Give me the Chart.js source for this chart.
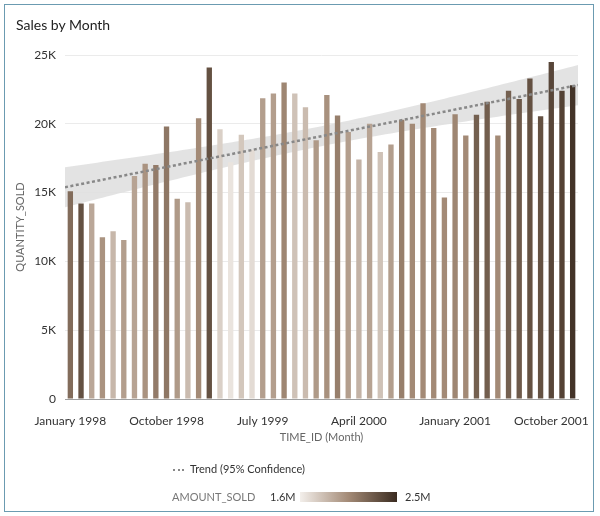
<!DOCTYPE html>
<html lang="en">
<head>
<meta charset="UTF-8">
<title>Sales by Month</title>
<script src="https://cdn.jsdelivr.net/npm/chart.js"></script>
<style>
  body { margin: 0; background: #fff; font-family: Lato, "Noto Sans", sans-serif; }
  #wrap { position: relative; width: 600px; height: 516px; }
  #frame { position: absolute; left: 4px; top: 4px; width: 590px; height: 508px; box-sizing: border-box; border: 1px solid #6b9bb1; }
  #chart { position: absolute; left: 0; top: 0; }
  .txt { position: absolute; white-space: nowrap; line-height: 1; }
  #title { left: 16px; top: 18px; font-size: 14px; color: #222; }
  #trendKey { left: 173px; top: 469px; width: 11px; border-top: 2px dotted #888; }
  #trendLbl { left: 190px; top: 463px; font-size: 11px; color: #333; }
  #amtLbl { left: 172px; top: 491px; font-size: 11px; color: #777; }
  #amtMin { left: 270px; top: 491px; font-size: 11px; color: #333; }
  #amtBar { position: absolute; left: 300px; top: 492px; width: 97px; height: 10px; }
  #amtMax { left: 405px; top: 491px; font-size: 11px; color: #333; }
</style>
</head>
<body>
<div id="wrap">
  <div id="frame"></div>
  <canvas id="chart" width="600" height="516"></canvas>
  <div id="title" class="txt">Sales by Month</div>
  <div id="trendKey" class="txt"></div>
  <div id="trendLbl" class="txt">Trend (95% Confidence)</div>
  <div id="amtLbl" class="txt">AMOUNT_SOLD</div>
  <div id="amtMin" class="txt">1.6M</div>
  <div id="amtBar"></div>
  <div id="amtMax" class="txt">2.5M</div>
</div>
<script>
// months Jan 1998 .. Dec 2001
const months = [
  "January 1998", "February 1998", "March 1998", "April 1998", "May 1998", "June 1998",
  "July 1998", "August 1998", "September 1998", "October 1998", "November 1998", "December 1998",
  "January 1999", "February 1999", "March 1999", "April 1999", "May 1999", "June 1999",
  "July 1999", "August 1999", "September 1999", "October 1999", "November 1999", "December 1999",
  "January 2000", "February 2000", "March 2000", "April 2000", "May 2000", "June 2000",
  "July 2000", "August 2000", "September 2000", "October 2000", "November 2000", "December 2000",
  "January 2001", "February 2001", "March 2001", "April 2001", "May 2001", "June 2001",
  "July 2001", "August 2001", "September 2001", "October 2001", "November 2001", "December 2001"
];

// QUANTITY_SOLD
const quantitySold = [
  15100, 14200, 14200, 11750, 12200, 11550, 16200, 17100, 17000, 19800, 14550, 14300,
  20400, 24100, 19600, 17200, 19200, 18100, 21850, 22200, 23000, 22200, 21200, 18800,
  22100, 20600, 19400, 17400, 20000, 17950, 18500, 20300, 20000, 21500, 19700, 14650,
  20700, 19150, 20650, 21600, 19150, 22400, 21800, 23300, 20550, 24500, 22400, 22800
];

const amountSold = [
  2.19, 2.32, 1.92, 2.01, 1.85, 1.96, 1.94, 2.01, 2.12, 2.14, 1.98, 1.83,
  2.05, 2.32, 1.74, 1.65, 1.78, 1.69, 1.96, 1.96, 2.07, 1.80, 1.83, 1.98,
  2.02, 2.10, 1.96, 1.87, 1.94, 1.80, 1.96, 2.10, 2.05, 2.05, 2.05, 2.05,
  2.07, 2.05, 2.25, 2.26, 2.05, 2.25, 2.28, 2.32, 2.32, 2.37, 2.39, 2.46
];

const amountMin = 1.6, amountMax = 2.5;
const colorStops = [[0, [243, 239, 235]], [0.5, [163, 138, 118]], [1, [58, 43, 32]]];

function shade(v) {
  let t = Math.min(1, Math.max(0, (v - amountMin) / (amountMax - amountMin)));
  for (let i = 1; i < colorStops.length; i++) {
    const [t0, c0] = colorStops[i - 1], [t1, c1] = colorStops[i];
    if (t <= t1) {
      const f = (t - t0) / (t1 - t0);
      const c = c0.map((x, k) => Math.round(x + (c1[k] - x) * f));
      return `rgb(${c[0]},${c[1]},${c[2]})`;
    }
  }
}

document.getElementById("amtBar").style.background =
  "linear-gradient(to right," + colorStops.map(s => shade(amountMin + s[0] * (amountMax - amountMin)) + " " + s[0] * 100 + "%").join(",") + ")";

// linear trend + 95% confidence band of the mean
const n = quantitySold.length;
const xbar = (n - 1) / 2;
const ybar = quantitySold.reduce((a, b) => a + b, 0) / n;
let sxx = 0, sxy = 0;
quantitySold.forEach((y, i) => { sxx += (i - xbar) ** 2; sxy += (i - xbar) * (y - ybar); });
const slope = sxy / sxx;
const icept = ybar - slope * xbar;
let sse = 0;
quantitySold.forEach((y, i) => { sse += (y - (icept + slope * i)) ** 2; });
const se = Math.sqrt(sse / (n - 2));
const tcrit = 2.013;

const trendPts = [-0.5, n - 0.5].map(x => ({ x, y: icept + slope * x }));
const upperPts = [], lowerPts = [];
for (let x = -0.5; x <= n - 0.5; x += 0.5) {
  const h = tcrit * se * Math.sqrt(1 / n + (x - xbar) ** 2 / sxx);
  const y = icept + slope * x;
  upperPts.push({ x, y: y + h });
  lowerPts.push({ x, y: y - h });
}

Chart.defaults.font.family = "Lato, 'Noto Sans', sans-serif";

new Chart(document.getElementById("chart"), {
  type: "bar",
  data: {
    labels: months,
    datasets: [
      {
        label: "QUANTITY_SOLD",
        data: quantitySold,
        backgroundColor: amountSold.map(shade),
        grouped: false,
        barPercentage: 0.5,
        categoryPercentage: 1,
        order: 1
      },
      {
        type: "line",
        label: "Trend",
        data: trendPts,
        xAxisID: "xl",
        borderColor: "#888",
        borderWidth: 2.5,
        borderDash: [3, 2.5],
        pointRadius: 0,
        fill: false,
        order: 0
      },
      {
        type: "line",
        label: "upper",
        data: upperPts,
        xAxisID: "xl",
        borderWidth: 0,
        pointRadius: 0,
        backgroundColor: "rgba(224,224,224,0.9)",
        fill: "+1",
        order: 2
      },
      {
        type: "line",
        label: "lower",
        data: lowerPts,
        xAxisID: "xl",
        borderWidth: 0,
        pointRadius: 0,
        fill: false,
        order: 2
      }
    ]
  },
  options: {
    responsive: false,
    animation: false,
    layout: { padding: { left: 10, right: 22, top: 55, bottom: 67 } },
    plugins: { legend: { display: false }, tooltip: { enabled: false } },
    scales: {
      x: {
        grid: { display: false },
        border: { display: true, color: "#a0a0a0" },
        ticks: {
          autoSkip: false,
          maxRotation: 0,
          padding: 7,
          color: "#333",
          font: { size: 12 },
          callback: (v, i) => (i % 9 === 0 ? months[i] : "")
        },
        title: { display: true, text: "TIME_ID (Month)", color: "#666", font: { size: 11 }, padding: { top: 4, bottom: 5 } },
        afterFit: s => { s.height = 50; }
      },
      xl: { type: "linear", display: false, offset: false, min: -0.5, max: n - 0.5 },
      y: {
        min: 0,
        max: 25000,
        grid: { color: "#ebebeb", drawTicks: false },
        border: { display: false },
        ticks: {
          stepSize: 5000,
          padding: 9,
          color: "#333",
          font: { size: 12 },
          callback: v => (v === 0 ? "0" : v / 1000 + "K")
        },
        title: { display: true, text: "QUANTITY_SOLD", color: "#666", font: { size: 11 }, padding: { top: 4, bottom: 0 } },
        afterFit: s => { s.width = 55; }
      }
    }
  }
});
</script>
</body>
</html>
